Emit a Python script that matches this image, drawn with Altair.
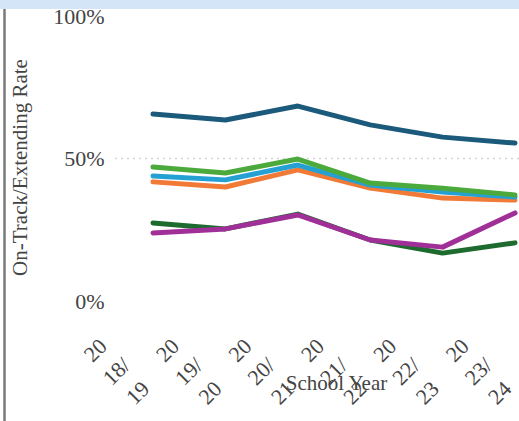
import altair as alt
import pandas as pd

years = ["2018/19", "2019/20", "2020/21", "2021/22", "2022/23", "2023/24"]
series_names = ["Group 1", "Group 2", "Group 3", "Group 4", "Group 5", "Group 6"]
series_colors = ["#1b5a7a", "#f07a36", "#25a0d2", "#4caa3c", "#1d6b2e", "#a02f98"]
dark_blue = [0.656, 0.635, 0.684, 0.618, 0.575, 0.554]
orange = [0.418, 0.400, 0.460, 0.396, 0.361, 0.354]
light_blue = [0.439, 0.425, 0.477, 0.407, 0.382, 0.365]
green = [0.470, 0.449, 0.498, 0.414, 0.396, 0.372]
dark_green = [0.274, 0.253, 0.305, 0.214, 0.168, 0.204]
magenta = [0.239, 0.253, 0.302, 0.214, 0.189, 0.309]
gridline_values = [0.5]

all_series = [dark_blue, orange, light_blue, green, dark_green, magenta]
rows = []
for order, (name, vals) in enumerate(zip(series_names, all_series)):
    for yr, v in zip(years, vals):
        rows.append({"year": yr, "rate": v, "series": name, "order": order})
df = pd.DataFrame(rows)

FONT = "Liberation Serif"
W, H = 404, 285

yscale = alt.Scale(domain=[0, 1], nice=False)
yaxis = alt.Axis(title="On-Track/Extending Rate", values=[0, 0.5, 1], format=".0%",
                 labelFont=FONT, labelFontSize=22, labelColor="#444", labelPadding=11,
                 ticks=False, domain=False, grid=False,
                 titleFont=FONT, titleFontSize=21, titleFontWeight="normal",
                 titleColor="#444", titleAngle=-90, titleX=-95, titleY=151,
                 titleBaseline="middle", titleAlign="center")

grid = alt.Chart(pd.DataFrame({"g": gridline_values})).mark_rule(
    color="#d4d4d4", strokeWidth=1.5, strokeDash=[2, 4]
).encode(y=alt.Y("g:Q", scale=yscale, axis=yaxis, title="On-Track/Extending Rate"))

lines = alt.Chart(df).mark_line(strokeWidth=5, strokeCap="round", strokeJoin="round").encode(
    x=alt.X("year:O", sort=years,
            scale=alt.Scale(type="point", padding=0.29, align=0.905),
            axis=alt.Axis(title="School Year", labelAngle=-45, labelAlign="center",
                          labelBaseline="middle", labelExpr="['20', substring(datum.value, 2, 5), substring(datum.value, 5, 7)]",
                          labelLineHeight=30, labelOffset=-58, labelPadding=49,
                          labelFont=FONT, labelFontSize=22, labelColor="#444",
                          ticks=False, domain=False, grid=False,
                          titleFont=FONT, titleFontSize=21, titleFontWeight="normal",
                          titleColor="#444", titleX=221, titleY=82, titleBaseline="middle",
                          titleAlign="center")),
    y=alt.Y("rate:Q", scale=yscale, axis=yaxis, title="On-Track/Extending Rate"),
    color=alt.Color("series:N", scale=alt.Scale(domain=series_names, range=series_colors), legend=None),
    order=alt.Order("order:Q"),
    detail="series:N",
)

band = alt.Chart(pd.DataFrame({"a": [0]})).mark_rect(color="#d3e5f6").encode(
    x=alt.value(-115), x2=alt.value(404), y=alt.value(-16), y2=alt.value(-7)
)
border = alt.Chart(pd.DataFrame({"a": [0]})).mark_rule(color="#7a7a7a", strokeWidth=2.5).encode(
    x=alt.value(-110.5), y=alt.value(-7), y2=alt.value(410)
)

chart = alt.layer(grid, lines, band, border).properties(
    width=W, height=H,
    background="white",
    autosize=alt.AutoSizeParams(type="none"),
    padding={"left": 115, "top": 16, "right": 0, "bottom": 120},
).configure_view(stroke=None)

chart.save("out.html", embed_options={"renderer": "svg", "actions": False})
